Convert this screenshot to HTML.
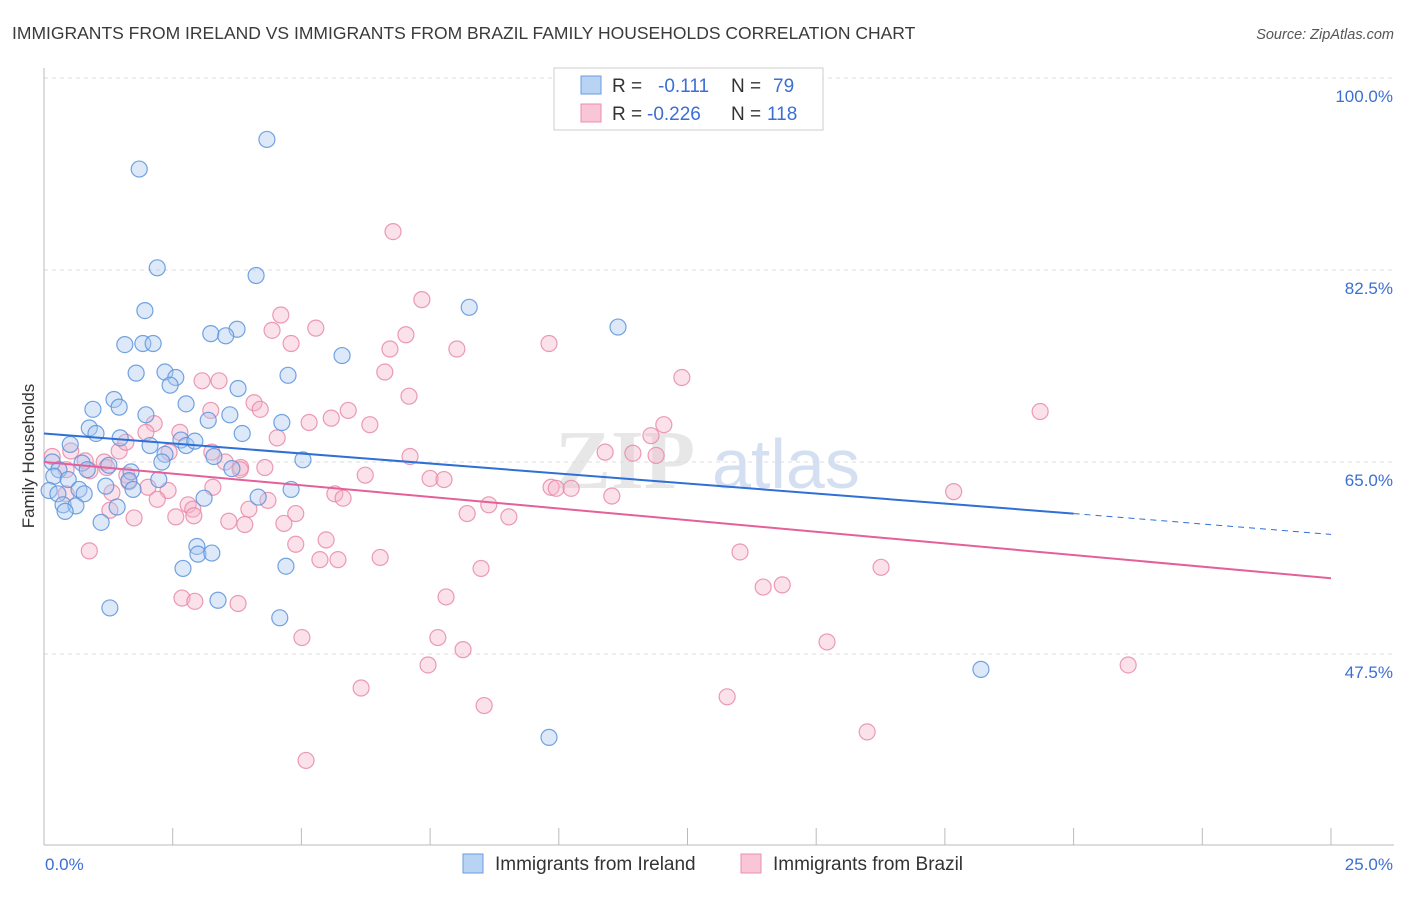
<!DOCTYPE html>
<html><head><meta charset="utf-8">
<style>
html,body{margin:0;padding:0;background:#fff;}
body{width:1406px;height:892px;overflow:hidden;font-family:"Liberation Sans",sans-serif;}
</style></head>
<body>
<svg id="chart" width="1406" height="892" viewBox="0 0 1406 892" xmlns="http://www.w3.org/2000/svg" font-family="Liberation Sans, sans-serif">
<text x="12" y="39" font-size="17.5" fill="#3a3a3a">IMMIGRANTS FROM IRELAND VS IMMIGRANTS FROM BRAZIL FAMILY HOUSEHOLDS CORRELATION CHART</text>
<text x="1394" y="39" font-size="14.5" fill="#555" text-anchor="end" font-style="italic">Source: ZipAtlas.com</text>
<g>
<text x="555" y="488" font-size="84" fill="#d8d8d8" font-family="Liberation Serif, serif" font-weight="bold" opacity="0.6">ZIP</text>
<text x="712" y="488" font-size="70" fill="#b8cdea" opacity="0.6">atlas</text>
</g>
<g id="grid"></g>
<g id="axes"></g>
<g id="points"></g>
<g id="trends"></g>
<text transform="translate(34,456) rotate(-90)" font-size="17" fill="#333" text-anchor="middle">Family Households</text>
<g>
<rect x="554" y="68" width="269" height="62" fill="#fff" stroke="#ccc"/>
<rect x="581" y="76" width="20" height="18" fill="#b9d3f4" stroke="#6b9be0"/>
<text x="612" y="92" font-size="19" fill="#333">R = </text>
<text x="658" y="92" font-size="19" fill="#3b6fd4">-0.111</text>
<text x="731" y="92" font-size="19" fill="#333">N = </text>
<text x="773" y="92" font-size="19" fill="#3b6fd4">79</text>
<rect x="581" y="104" width="20" height="18" fill="#f8c6d6" stroke="#e98fae"/>
<text x="612" y="120" font-size="19" fill="#333">R = </text>
<text x="647" y="120" font-size="19" fill="#3b6fd4">-0.226</text>
<text x="731" y="120" font-size="19" fill="#333">N = </text>
<text x="767" y="120" font-size="19" fill="#3b6fd4">118</text>
</g>
<g>
<rect x="463" y="854" width="20" height="19" fill="#b9d3f4" stroke="#6b9be0"/>
<text x="495" y="870" font-size="19" fill="#333">Immigrants from Ireland</text>
</g>
<g>
<rect x="741" y="854" width="20" height="19" fill="#f8c6d6" stroke="#e98fae"/>
<text x="773" y="870" font-size="19" fill="#333">Immigrants from Brazil</text>
</g>
</svg>
<script>
const yTicks=[100,82.5,65,47.5];
const yTickLabels=["100.0%","82.5%","65.0%","47.5%"];
const xTickLabels=["0.0%","25.0%"];
const irelandX=[4.33,1.85,2.20,4.12,8.26,1.96,11.15,3.75,3.24,3.53,1.57,1.92,2.12,5.79,1.79,2.35,2.56,2.45,4.74,3.77,1.36,1.46,2.76,0.95,1.98,3.19,3.61,4.62,0.88,1.01,3.85,1.48,2.06,2.66,2.76,2.93,0.51,3.30,5.03,2.35,2.29,0.16,0.74,1.26,0.29,0.84,1.69,3.65,0.19,0.47,1.65,2.23,1.20,0.10,0.68,1.73,4.80,0.27,0.78,3.11,4.16,0.37,0.62,0.41,1.42,1.11,2.97,2.99,3.26,2.70,4.70,1.28,3.38,4.58,18.2,9.81];
const irelandY=[94.4,91.7,82.7,82.0,79.1,78.8,77.3,77.1,76.7,76.5,75.7,75.8,75.8,74.7,73.1,73.2,72.7,72.0,72.9,71.7,70.7,70.0,70.3,69.8,69.3,68.8,69.3,68.6,68.1,67.6,67.6,67.2,66.5,67.0,66.5,66.9,66.6,65.5,65.2,65.7,65.0,65.0,64.9,64.7,64.3,64.3,64.1,64.4,63.7,63.4,63.3,63.4,62.8,62.4,62.5,62.5,62.5,62.1,62.1,61.7,61.8,61.1,61.0,60.5,60.9,59.5,57.3,56.6,56.7,55.3,55.5,51.7,52.4,50.8,46.1,39.9];
const brazilX=[6.78,7.34,4.60,5.28,4.43,7.03,4.80,9.81,8.02,6.72,6.62,12.39,3.07,3.40,7.09,4.08,4.20,3.24,5.91,19.35,5.58,5.15,6.33,2.14,1.98,2.64,12.04,11.79,4.53,2.43,10.90,11.44,11.89,0.52,1.46,3.26,7.11,0.16,0.80,1.17,3.52,1.22,3.82,4.29,0.43,0.89,1.61,6.24,7.50,7.77,3.81,1.65,3.28,2.02,2.41,9.85,9.95,10.24,17.67,1.32,0.43,5.65,5.81,11.03,4.35,2.20,2.80,2.89,3.98,8.64,1.28,4.89,8.22,9.03,1.75,2.56,2.91,3.59,3.90,4.66,5.48,4.89,0.88,13.52,6.53,5.36,5.71,8.49,16.26,14.34,13.97,2.68,2.93,3.77,7.81,5.01,7.65,15.21,8.14,7.46,21.06,6.16,13.27,8.55,15.99,5.09,1.59];
const brazilY=[86.0,79.8,78.4,77.2,77.0,76.6,75.8,75.8,75.3,75.3,73.2,72.7,72.4,72.4,71.0,70.4,69.8,69.7,69.7,69.6,69.0,68.6,68.4,68.5,67.7,67.7,68.4,67.4,67.2,65.9,65.9,65.8,65.6,66.0,66.0,65.9,65.5,65.5,65.1,65.0,65.0,64.5,64.5,64.5,64.3,64.2,63.8,63.8,63.5,63.4,64.3,63.2,62.7,62.7,62.4,62.7,62.6,62.6,62.3,62.2,62.1,62.1,61.7,61.9,61.5,61.6,61.1,60.7,60.7,61.1,60.6,60.3,60.3,60.0,59.9,60.0,60.1,59.6,59.3,59.4,57.9,57.5,56.9,56.8,56.3,56.1,56.1,55.3,55.4,53.8,53.6,52.6,52.3,52.1,52.7,49.0,49.0,48.6,47.9,46.5,46.5,44.4,43.6,42.8,40.4,37.8,66.8];
const irelandTrend=[67.6,60.3,58.4];
const irelandTrendX=[0,20,25];
const brazilTrend=[65.0,54.4];
const brazilTrendX=[0,25];

const NS="http://www.w3.org/2000/svg";
const X0=44,X1=1331;
function xs(v){return X0+(X1-X0)*v/25;}
function ys(v){return 462-(v-65)*192/17.5;}
function mk(tag,attrs,parent){const e=document.createElementNS(NS,tag);for(const k in attrs)e.setAttribute(k,attrs[k]);parent.appendChild(e);return e;}
const grid=document.getElementById('grid'),axes=document.getElementById('axes'),pts=document.getElementById('points'),tr=document.getElementById('trends');
yTicks.forEach((t,i)=>{
  const l=mk('line',{x1:X0,x2:1394,y1:ys(t),y2:ys(t),stroke:'#ddd','stroke-dasharray':'4,4'},grid);
  
  
  const tx=mk('text',{x:1393,y:ys(t)+24,'font-size':17,fill:'#3b6fd4','text-anchor':'end'},axes);
  tx.textContent=yTickLabels[i];
  
  
});
const ya=mk('line',{x1:X0,x2:X0,y1:68,y2:845,stroke:'#bbb'},axes);


const xa=mk('line',{x1:X0,x2:1394,y1:845,y2:845,stroke:'#bbb'},axes);


for(let i=0;i<=10;i++){
  const t=mk('line',{x1:xs(i*2.5),x2:xs(i*2.5),y1:828,y2:845,stroke:'#bbb'},axes);
  
  
}
const xl0=mk('text',{x:45,y:870,'font-size':17,fill:'#3b6fd4'},axes);
xl0.textContent=xTickLabels[0];


const xl1=mk('text',{x:1393,y:870,'font-size':17,fill:'#3b6fd4','text-anchor':'end'},axes);
xl1.textContent=xTickLabels[1];


function drawPts(X,Y,fill,stroke,name){
  X.forEach((x,i)=>{
    const c=mk('circle',{cx:xs(x),cy:ys(Y[i]),r:8,fill:fill,'fill-opacity':0.4,stroke:stroke,'stroke-width':1.2,'stroke-opacity':0.85},pts);
    
    
  });
}
drawPts(brazilX,brazilY,'#f4b3c8','#e889a8','point-brazil');
drawPts(irelandX,irelandY,'#a9c8f0','#5b93dd','point-ireland');
const b1=mk('line',{x1:xs(irelandTrendX[0]),y1:ys(irelandTrend[0]),x2:xs(irelandTrendX[1]),y2:ys(irelandTrend[1]),stroke:'#2f6fd6','stroke-width':2},tr);


const b2=mk('line',{x1:xs(irelandTrendX[1]),y1:ys(irelandTrend[1]),x2:xs(irelandTrendX[2]),y2:ys(irelandTrend[2]),stroke:'#2f6fd6','stroke-width':1,'stroke-dasharray':'6,5'},tr);


const p1=mk('line',{x1:xs(brazilTrendX[0]),y1:ys(brazilTrend[0]),x2:xs(brazilTrendX[1]),y2:ys(brazilTrend[1]),stroke:'#e5609a','stroke-width':2},tr);


</script>
</body></html>
